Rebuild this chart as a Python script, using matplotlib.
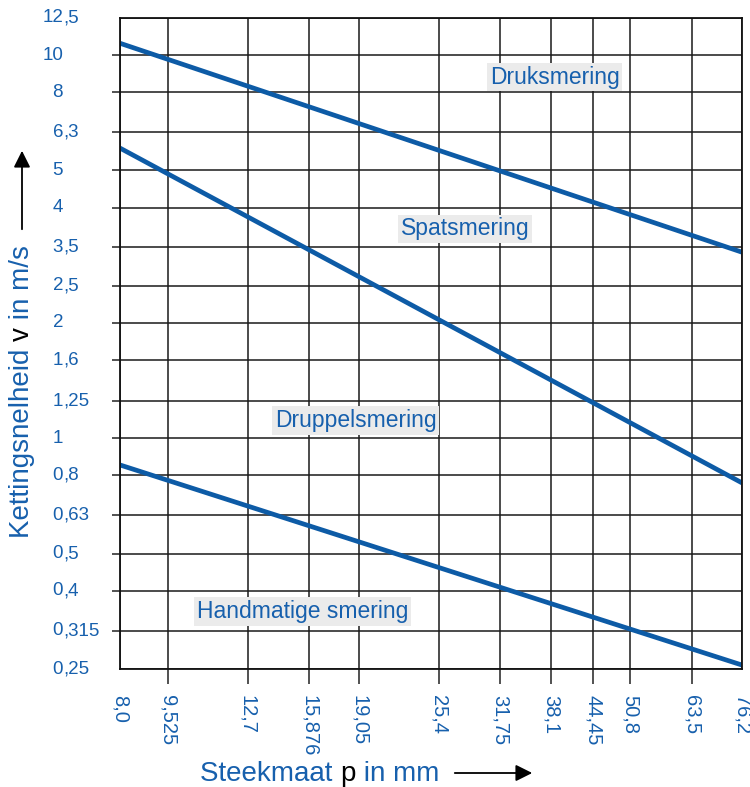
import numpy as np
import matplotlib
matplotlib.use("Agg")
import matplotlib.pyplot as plt
from matplotlib import transforms

plt.rcParams['font.family'] = ['Liberation Sans', 'DejaVu Sans']

# data
pitch_ticks = [8.0, 9.525, 12.7, 15.876, 19.05, 25.4, 31.75, 38.1, 44.45, 50.8, 63.5, 76.2]
pitch_labels = ["8,0", "9,525", "12,7", "15,876", "19,05", "25,4", "31,75", "38,1", "44,45", "50,8", "63,5", "76,2"]
speed_ticks = [0.25, 0.315, 0.4, 0.5, 0.63, 0.8, 1, 1.25, 1.6, 2, 2.5, 3.15, 4, 5, 6.3, 8, 10, 12.5]
speed_labels = ["0,25", "0,315", "0,4", "0,5", "0,63", "0,8", "1", "1,25", "1,6", "2", "2,5", "3,5",
                "4", "5", "6,3", "8", "10", "12,5"]

pitch_ends = [8.0, 76.2]
druk = [10.74, 3.06]
spats = [5.72, 0.765]
hand = [0.852, 0.256]

regions = ["Druksmering", "Spatsmering", "Druppelsmering", "Handmatige smering"]
region_pos = [(0.699, 0.909), (0.555, 0.676), (0.379, 0.382), (0.294, 0.088)]

blue = '#1760ad'
line_blue = '#0d5ba6'

fig = plt.figure(figsize=(7.5, 7.87), dpi=100)
ax = fig.add_axes([120/750, 1-669/787, 622/750, 651/787])
ax.set_xscale('log')
ax.set_yscale('log')
ax.set_xlim(8.0, 76.2)
ax.set_ylim(0.25, 12.5)
ax.minorticks_off()

ax.set_xticks(pitch_ticks)
ax.set_xticklabels(pitch_labels, rotation=270, fontsize=14.5, color=blue, va='top', ha='center')
ax.set_yticks(speed_ticks)
ax.set_yticklabels([""] * len(speed_ticks))
ax.tick_params(axis='x', direction='out', length=11, width=1.1, pad=8, color='#222222')
ax.tick_params(axis='y', direction='out', length=5.5, width=1.1, pad=2, color='#222222')
for t in (ax.xaxis.get_major_ticks()[0], ax.xaxis.get_major_ticks()[-1],
          ax.yaxis.get_major_ticks()[0], ax.yaxis.get_major_ticks()[-1]):
    t.tick1line.set_visible(False)

ax.grid(True, which='major', color='#1a1a1a', lw=1.1)
for s in ax.spines.values():
    s.set_linewidth(1.3)
    s.set_color('#111111')

# y tick labels, aligned on the comma
tr = transforms.blended_transform_factory(fig.transFigure, ax.transData)
xa = 63/750
for v, lab in zip(speed_ticks, speed_labels):
    parts = lab.split(',')
    ax.text(xa, v, parts[0], transform=tr, ha='right', va='center', fontsize=13.5, color=blue)
    if len(parts) > 1:
        ax.text(xa, v, ',' + parts[1], transform=tr, ha='left', va='center', fontsize=13.5, color=blue)

for ys in (druk, spats, hand):
    ax.plot(pitch_ends, ys, color=line_blue, lw=3.4, solid_capstyle='butt', clip_on=True)

for name, (px, py) in zip(regions, region_pos):
    ax.text(px, py, name, transform=ax.transAxes, ha='center', va='center', fontsize=16.5, color=blue,
            bbox=dict(boxstyle='square,pad=0.12', fc='#ebebeb', ec='none'))

renderer = fig.canvas.get_renderer()


def multi_text(x, y, parts, rotation=0, **kw):
    t = transforms.offset_copy(fig.transFigure, fig=fig, x=0, y=0, units='dots')
    t = fig.transFigure
    for s, c in parts:
        txt = fig.text(x, y, s, color=c, rotation=rotation, transform=t, **kw)
        txt.draw(renderer)
        ex = txt.get_window_extent(renderer)
        if rotation == 0:
            t = transforms.offset_copy(txt.get_transform(), fig=fig, x=ex.width, units='dots')
        else:
            t = transforms.offset_copy(txt.get_transform(), fig=fig, y=ex.height, units='dots')


multi_text(200/750, 6/787, [("Steekmaat ", blue), ("p", 'black'), (" in mm", blue)],
           ha='left', va='baseline', fontsize=20)
multi_text(22/750, (787-538)/787, [("Kettingsnelheid ", blue), ("v", 'black'), (" in m/s", blue)],
           rotation=90, ha='center', va='bottom', fontsize=20)

ax.annotate("", xy=(535, 14), xytext=(452, 14), xycoords='figure pixels', textcoords='figure pixels',
            arrowprops=dict(arrowstyle='-|>', color='black', lw=1.3, mutation_scale=25))
ax.annotate("", xy=(22, 639), xytext=(22, 555), xycoords='figure pixels', textcoords='figure pixels',
            arrowprops=dict(arrowstyle='-|>', color='black', lw=1.3, mutation_scale=25))

fig.savefig("out.png", dpi=100)
